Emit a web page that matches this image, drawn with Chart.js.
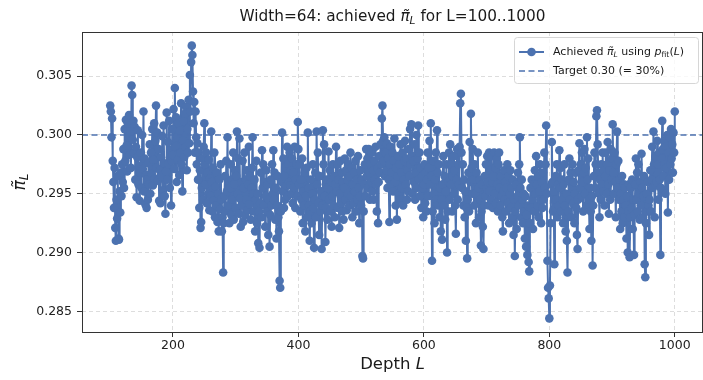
<!DOCTYPE html>
<html>
<head>
<meta charset="utf-8">
<script src="https://cdn.jsdelivr.net/npm/chart.js@4.4.1/dist/chart.umd.min.js"></script>
<style>
    html, body { margin: 0; padding: 0; background: #ffffff; }
    #wrap { width: 703px; height: 380px; }
</style>
</head>
<body>
<div id="wrap"><canvas id="grafico" width="703" height="380"></canvas></div>
<script>
// depths L = 100..1000, one value per depth
const depthFirst = 100;
const achievedPi = [
    0.3025, 0.3020, 0.2998, 0.3014, 0.2978, 0.2960, 0.2938, 0.2972, 0.2921, 0.2910,
    0.2945, 0.2929, 0.2965, 0.2912, 0.2911, 0.2952, 0.2934, 0.2968, 0.2948, 0.2975,
    0.2960, 0.2988, 0.2955, 0.3005, 0.2978, 0.3013, 0.2991, 0.2969, 0.3010, 0.2998,
    0.3017, 0.2983, 0.3003, 0.2972, 0.3042, 0.3034, 0.2996, 0.3012, 0.2985, 0.3007,
    0.2962, 0.2990, 0.2947, 0.2981, 0.3004, 0.2958, 0.2974, 0.2944, 0.2968, 0.2985,
    0.2955, 0.3000, 0.2971, 0.3020, 0.2952, 0.2980, 0.2941, 0.2966, 0.2938, 0.2962,
    0.2945, 0.2976, 0.2958, 0.2992, 0.2950, 0.2985, 0.2967, 0.3005, 0.2957, 0.2979,
    0.3010, 0.2963, 0.2995, 0.3025, 0.2972, 0.3002, 0.2961, 0.2988, 0.2944, 0.2970,
    0.2942, 0.2981, 0.2965, 0.2999, 0.2953, 0.3008, 0.2976, 0.2948, 0.2933, 0.2969,
    0.3019, 0.2962, 0.2994, 0.2975, 0.3012, 0.2955, 0.2987, 0.2940, 0.2978, 0.3005,
    0.2983, 0.3022, 0.2971, 0.3040, 0.2990, 0.3015, 0.2960, 0.2998, 0.2979, 0.3010,
    0.2966, 0.3004, 0.2985, 0.3027, 0.2975, 0.2952, 0.2995, 0.3012, 0.2981, 0.3018,
    0.2990, 0.3024, 0.2970, 0.3005, 0.2985, 0.3030, 0.2993, 0.3051, 0.3020, 0.3062,
    0.3076, 0.3068, 0.3037, 0.3010, 0.3028, 0.2985, 0.3020, 0.2998, 0.2975, 0.2993,
    0.2962, 0.2985, 0.2938, 0.2970, 0.2921, 0.2926, 0.2955, 0.2980, 0.2945, 0.2990,
    0.3010, 0.2975, 0.2958, 0.2985, 0.2942, 0.2968, 0.2950, 0.2979, 0.2936, 0.2963,
    0.2948, 0.3003, 0.2960, 0.2935, 0.2972, 0.2944, 0.2985, 0.2930, 0.2956, 0.2940,
    0.2968, 0.2926, 0.2950, 0.2918, 0.2962, 0.2937, 0.2975, 0.2945, 0.2918, 0.2930,
    0.2883, 0.2925, 0.2948, 0.2965, 0.2935, 0.2978, 0.2952, 0.2998, 0.2940, 0.2960,
    0.2925, 0.2955, 0.2975, 0.2932, 0.2962, 0.2945, 0.2985, 0.2928, 0.2958, 0.2970,
    0.2938, 0.2965, 0.3003, 0.2950, 0.2980, 0.2933, 0.2997, 0.2946, 0.2922, 0.2960,
    0.2940, 0.2978, 0.2926, 0.2955, 0.2985, 0.2932, 0.2962, 0.2945, 0.2970, 0.2936,
    0.2958, 0.2990, 0.2941, 0.2965, 0.2928, 0.2955, 0.2972, 0.2998, 0.2950, 0.2935,
    0.2962, 0.2918, 0.2945, 0.2978, 0.2925, 0.2950, 0.2908, 0.2935, 0.2904, 0.2942,
    0.2968, 0.2930, 0.2987, 0.2955, 0.2975, 0.2940, 0.2960, 0.2922, 0.2948, 0.2970,
    0.2935, 0.2958, 0.2915, 0.2945, 0.2905, 0.2932, 0.2962, 0.2940, 0.2975, 0.2950,
    0.2987, 0.2945, 0.2968, 0.2928, 0.2955, 0.2912, 0.2940, 0.2965, 0.2930, 0.2918,
    0.2876, 0.2870, 0.2935, 0.2960, 0.3002, 0.2952, 0.2980, 0.2938, 0.2965, 0.2945,
    0.2972, 0.2957, 0.2990, 0.2948, 0.2975, 0.2960, 0.2985, 0.2957, 0.2970, 0.2950,
    0.2980, 0.2942, 0.2968, 0.2955, 0.2990, 0.2938, 0.2962, 0.2975, 0.2948, 0.3011,
    0.2988, 0.2958, 0.2975, 0.2935, 0.2962, 0.2945, 0.2980, 0.2925, 0.2952, 0.2940,
    0.2968, 0.2918, 0.2948, 0.2972, 0.2930, 0.3002, 0.2955, 0.2940, 0.2910, 0.2935,
    0.2962, 0.2925, 0.2950, 0.2975, 0.2938, 0.2904, 0.2945, 0.2968, 0.2930, 0.3003,
    0.2958, 0.2985, 0.2942, 0.2915, 0.2965, 0.2935, 0.2952, 0.2903, 0.2940, 0.3004,
    0.2975, 0.2992, 0.2948, 0.2909, 0.2938, 0.2962, 0.2928, 0.2955, 0.2986, 0.2945,
    0.2970, 0.2935, 0.2960, 0.2922, 0.2948, 0.2975, 0.2940, 0.2965, 0.2930, 0.2958,
    0.2990, 0.2952, 0.2975, 0.2938, 0.2962, 0.2921, 0.2950, 0.2978, 0.2942, 0.2968,
    0.2935, 0.2960, 0.2928, 0.2955, 0.2980, 0.2945, 0.2970, 0.2936, 0.2962, 0.2950,
    0.2975, 0.2940, 0.2965, 0.2985, 0.2948, 0.2972, 0.2930, 0.2958, 0.2942, 0.2968,
    0.2952, 0.2978, 0.2935, 0.2962, 0.2945, 0.2982, 0.2955, 0.2925, 0.2948, 0.2970,
    0.2940, 0.2962, 0.2897, 0.2895, 0.2935, 0.2958, 0.2975, 0.2948, 0.2988, 0.2965,
    0.2980, 0.2955, 0.2988, 0.2968, 0.2945, 0.2975, 0.2960, 0.2985, 0.2952, 0.2970,
    0.2945, 0.2978, 0.2962, 0.2990, 0.2958, 0.2935, 0.2972, 0.2925, 0.2960, 0.2982,
    0.2968, 0.2992, 0.2975, 0.3014, 0.3025, 0.2995, 0.2978, 0.2998, 0.2965, 0.2985,
    0.2970, 0.2993, 0.2955, 0.2980, 0.2962, 0.2926, 0.2975, 0.2990, 0.2958, 0.2968,
    0.2985, 0.2952, 0.2978, 0.2997, 0.2960, 0.2940, 0.2972, 0.2928, 0.2965, 0.2982,
    0.2950, 0.2975, 0.2945, 0.2992, 0.2968, 0.2955, 0.2985, 0.2940, 0.2962, 0.2978,
    0.2995, 0.2958, 0.2980, 0.2945, 0.2970, 0.2952, 0.2988, 0.2965, 0.3005, 0.2975,
    0.3009, 0.2982, 0.2950, 0.2978, 0.2960, 0.2992, 0.2945, 0.2968, 0.3000, 0.2955,
    0.2980, 0.3008, 0.2962, 0.2985, 0.2948, 0.2972, 0.2938, 0.2965, 0.2955, 0.2930,
    0.2958, 0.2975, 0.2942, 0.2968, 0.2935, 0.2962, 0.2985, 0.2948, 0.2972, 0.2995,
    0.2958, 0.3010, 0.2965, 0.2893, 0.2935, 0.2978, 0.2950, 0.2925, 0.2962, 0.2985,
    0.2945, 0.3004, 0.2968, 0.2940, 0.2975, 0.2930, 0.2955, 0.2918, 0.2945, 0.2911,
    0.2958, 0.2982, 0.2940, 0.2965, 0.2928, 0.2952, 0.2975, 0.2900, 0.2935, 0.2960,
    0.2985, 0.2945, 0.2992, 0.2958, 0.2975, 0.2935, 0.2965, 0.2982, 0.2950, 0.2970,
    0.2940, 0.2916, 0.2962, 0.2988, 0.2945, 0.2975, 0.2958, 0.2990, 0.3027, 0.3035,
    0.2985, 0.2955, 0.2975, 0.2940, 0.2962, 0.2930, 0.2952, 0.2910, 0.2938, 0.2895,
    0.2945, 0.2968, 0.2935, 0.2994, 0.2960, 0.3018, 0.2972, 0.2950, 0.2988, 0.2962,
    0.2940, 0.2975, 0.2950, 0.2925, 0.2968, 0.2942, 0.2985, 0.2955, 0.2930, 0.2962,
    0.2945, 0.2906, 0.2935, 0.2958, 0.2922, 0.2903, 0.2940, 0.2965, 0.2948, 0.2975,
    0.2955, 0.2982, 0.2960, 0.2940, 0.2985, 0.2952, 0.2970, 0.2945, 0.2982, 0.2960,
    0.2938, 0.2965, 0.2985, 0.2950, 0.2972, 0.2942, 0.2980, 0.2958, 0.2935, 0.2975,
    0.2985, 0.2955, 0.2940, 0.2965, 0.2948, 0.2930, 0.2918, 0.2952, 0.2970, 0.2945,
    0.2960, 0.2935, 0.2955, 0.2975, 0.2942, 0.2965, 0.2925, 0.2950, 0.2970, 0.2938,
    0.2955, 0.2930, 0.2962, 0.2915, 0.2945, 0.2897, 0.2935, 0.2958, 0.2920, 0.2948,
    0.2968, 0.2940, 0.2975, 0.2998, 0.2955, 0.2930, 0.2962, 0.2945, 0.2925, 0.2950,
    0.2935, 0.2912, 0.2948, 0.2905, 0.2932, 0.2898, 0.2940, 0.2892, 0.2884, 0.2925,
    0.2955, 0.2938, 0.2962, 0.2945, 0.2920, 0.2958, 0.2935, 0.2970, 0.2950, 0.2982,
    0.2958, 0.2940, 0.2965, 0.2930, 0.2952, 0.2975, 0.2945, 0.2925, 0.2960, 0.2938,
    0.2968, 0.2945, 0.2985, 0.2955, 0.2975, 0.3008, 0.2950, 0.2893, 0.2870, 0.2861,
    0.2844, 0.2872, 0.2925, 0.2958, 0.2994, 0.2960, 0.2935, 0.2952, 0.2890, 0.2938,
    0.2965, 0.2945, 0.2975, 0.2930, 0.2958, 0.2940, 0.2987, 0.2955, 0.2972, 0.2935,
    0.2962, 0.2945, 0.2925, 0.2958, 0.2975, 0.2940, 0.2918, 0.2950, 0.2910, 0.2883,
    0.2935, 0.2962, 0.2980, 0.2945, 0.2968, 0.2930, 0.2955, 0.2975, 0.2942, 0.2960,
    0.2925, 0.2950, 0.2968, 0.2938, 0.2915, 0.2903, 0.2945, 0.2970, 0.2993, 0.2955,
    0.2975, 0.2948, 0.2985, 0.2960, 0.2935, 0.2968, 0.2988, 0.2950, 0.2972, 0.2940,
    0.2998, 0.2962, 0.2980, 0.2945, 0.2920, 0.2955, 0.2935, 0.2910, 0.2948, 0.2889,
    0.2940, 0.2965, 0.2985, 0.2955, 0.2975, 0.3016, 0.3021, 0.2992, 0.2968, 0.2950,
    0.2930, 0.2962, 0.2945, 0.2975, 0.2958, 0.2985, 0.2952, 0.2970, 0.2940, 0.2965,
    0.2985, 0.2950, 0.2975, 0.2994, 0.2958, 0.2933, 0.2970, 0.2945, 0.2988, 0.2962,
    0.2980, 0.3009, 0.2968, 0.2950, 0.2985, 0.2960, 0.2930, 0.2975, 0.3003, 0.2955,
    0.2978, 0.2945, 0.2962, 0.2920, 0.2950, 0.2935, 0.2965, 0.2925, 0.2945, 0.2958,
    0.2930, 0.2955, 0.2940, 0.2912, 0.2948, 0.2900, 0.2935, 0.2958, 0.2896, 0.2930,
    0.2955, 0.2938, 0.2962, 0.2920, 0.2945, 0.2898, 0.2932, 0.2958, 0.2980, 0.2945,
    0.2968, 0.2935, 0.2975, 0.2950, 0.2928, 0.2960, 0.2940, 0.2984, 0.2955, 0.2930,
    0.2948, 0.2965, 0.2890, 0.2879, 0.2925, 0.2950, 0.2935, 0.2960, 0.2940, 0.2915,
    0.2945, 0.2970, 0.2935, 0.2962, 0.2990, 0.2955, 0.3003, 0.2975, 0.2930, 0.2958,
    0.2982, 0.2960, 0.2995, 0.2975, 0.2945, 0.2985, 0.2962, 0.2898, 0.2955, 0.2980,
    0.3012, 0.2988, 0.2965, 0.2995, 0.2975, 0.2950, 0.2990, 0.2972, 0.3000, 0.2934,
    0.2985, 0.2962, 0.2998, 0.2975, 0.3005, 0.2980, 0.2992, 0.2968, 0.3002, 0.2985,
    0.3020
];
const targetPi = 0.30;
const xTicks = [200, 400, 600, 800, 1000];
const yTicks = [0.285, 0.290, 0.295, 0.300, 0.305];

const azul = '#4C72B0';
const fonteBase = '"DejaVu Sans", sans-serif';

const depths = achievedPi.map((_, i) => depthFirst + i);
const pontos = depths.map((L, i) => ({ x: L, y: achievedPi[i] }));

// axis limits with a 5% margin around the data, like matplotlib autoscaling
const xMinD = depths[0], xMaxD = depths[depths.length - 1];
const yMinD = Math.min(...achievedPi), yMaxD = Math.max(...achievedPi);
const xMin = xMinD - 0.05 * (xMaxD - xMinD);
const xMax = xMaxD + 0.05 * (xMaxD - xMinD);
const yMin = yMinD - 0.05 * (yMaxD - yMinD);
const yMax = yMaxD + 0.05 * (yMaxD - yMinD);

// text pieces: [text, italic, subscript]
function larguraRica(ctx, partes, tam) {
    let w = 0;
    partes.forEach(p => {
        ctx.font = (p[1] ? 'italic ' : '') + (p[2] ? tam * 0.7 : tam) + 'px ' + fonteBase;
        w += ctx.measureText(p[0]).width;
    });
    return w;
}

function escreverRico(ctx, partes, x, y, tam, alinhamento) {
    let w = larguraRica(ctx, partes, tam);
    let xi = alinhamento === 'center' ? x - w / 2 : x;
    ctx.textBaseline = 'middle';
    ctx.textAlign = 'left';
    partes.forEach(p => {
        ctx.font = (p[1] ? 'italic ' : '') + (p[2] ? tam * 0.7 : tam) + 'px ' + fonteBase;
        ctx.fillText(p[0], xi, p[2] ? y + tam * 0.25 : y);
        xi += ctx.measureText(p[0]).width;
    });
}

const moldura = {
    id: 'moldura',
    afterDraw(chart) {
        const ctx = chart.ctx;
        const a = chart.chartArea;
        ctx.save();
        ctx.strokeStyle = '#333333';
        ctx.lineWidth = 1;
        ctx.strokeRect(a.left + 0.5, a.top + 0.5, a.right - a.left - 1, a.bottom - a.top);
        ctx.fillStyle = '#1a1a1a';

        // title
        escreverRico(ctx, [['Width=64: achieved ', false, false], ['\u03C0\u0303', true, false], ['L', true, true], [' for L=100..1000', false, false]],
            (a.left + a.right) / 2, 17, 15.3, 'center');

        // x axis title
        escreverRico(ctx, [['Depth ', false, false], ['L', true, false]], (a.left + a.right) / 2, 365, 16.5, 'center');

        // y axis title (rotated)
        ctx.save();
        ctx.translate(21, (a.top + a.bottom) / 2);
        ctx.rotate(-Math.PI / 2);
        escreverRico(ctx, [['\u03C0\u0303', true, false], ['L', true, true]], 0, 0, 17, 'center');
        ctx.restore();

        // legend box, anchored to the upper right corner of the plot
        const lw = 184, lh = 46;
        const lx = a.right - 5 - lw, ly = 37;
        ctx.beginPath();
        ctx.roundRect(lx + 0.5, ly + 0.5, lw, lh, 3);
        ctx.fillStyle = 'rgba(255,255,255,0.8)';
        ctx.fill();
        ctx.strokeStyle = '#d6d6d6';
        ctx.stroke();

        ctx.strokeStyle = azul;
        ctx.lineWidth = 2;
        ctx.beginPath();
        ctx.moveTo(lx + 5, ly + 15);
        ctx.lineTo(lx + 30, ly + 15);
        ctx.stroke();
        ctx.fillStyle = azul;
        ctx.beginPath();
        ctx.arc(lx + 17.5, ly + 15, 4.3, 0, Math.PI * 2);
        ctx.fill();

        ctx.setLineDash([6, 3.5]);
        ctx.lineWidth = 1.6;
        ctx.beginPath();
        ctx.moveTo(lx + 5, ly + 34);
        ctx.lineTo(lx + 30, ly + 34);
        ctx.stroke();
        ctx.setLineDash([]);

        ctx.fillStyle = '#1a1a1a';
        escreverRico(ctx, [['Achieved ', false, false], ['\u03C0\u0303', true, false], ['L', true, true], [' using ', false, false],
            ['p', true, false], ['fit', false, true], ['(', false, false], ['L', true, false], [')', false, false]],
            lx + 39, ly + 15, 11, 'left');
        escreverRico(ctx, [['Target 0.30 (= 30%)', false, false]], lx + 39, ly + 34, 11, 'left');
        ctx.restore();
    }
};

const ctx = document.getElementById('grafico');

new Chart(ctx, {
    type: 'line',
    data: {
        datasets: [
            {
                label: 'Target 0.30 (= 30%)',
                data: [{ x: xMin, y: targetPi }, { x: xMax, y: targetPi }],
                borderColor: azul,
                borderWidth: 1.6,
                borderDash: [6, 3.5],
                pointRadius: 0,
                order: 0
            },
            {
                label: 'Achieved',
                data: pontos,
                borderColor: azul,
                backgroundColor: azul,
                borderWidth: 2,
                pointRadius: 4.3,
                pointBorderWidth: 0,
                pointBackgroundColor: azul,
                tension: 0,
                order: 1
            }
        ]
    },
    options: {
        animation: false,
        responsive: false,
        devicePixelRatio: 1,
        layout: { autoPadding: false, padding: { left: 0, top: 32, right: 0, bottom: 0 } },
        plugins: {
            legend: { display: false },
            title: { display: false },
            tooltip: { enabled: false }
        },
        scales: {
            x: {
                type: 'linear',
                min: xMin,
                max: xMax,
                afterBuildTicks: s => { s.ticks = xTicks.map(v => ({ value: v })); },
                afterFit: s => { s.height = 48; s.paddingLeft = 0; s.paddingRight = 0; },
                grid: { color: '#d4d4d4', lineWidth: 0.8, tickLength: 5, tickColor: '#333333', tickWidth: 1, tickBorderDash: [] },
                border: { display: false, dash: [4, 3] },
                ticks: {
                    color: '#222222',
                    font: { family: fonteBase, size: 12.5 },
                    padding: 1,
                    maxRotation: 0,
                    autoSkip: false,
                    callback: v => String(v)
                }
            },
            y: {
                min: yMin,
                max: yMax,
                afterBuildTicks: s => { s.ticks = yTicks.map(v => ({ value: v })); },
                afterFit: s => { s.width = 82; s.paddingTop = 0; s.paddingBottom = 0; },
                grid: { color: '#d4d4d4', lineWidth: 0.8, tickLength: 5, tickColor: '#333333', tickWidth: 1, tickBorderDash: [] },
                border: { display: false, dash: [4, 3] },
                ticks: {
                    color: '#222222',
                    font: { family: fonteBase, size: 12.5 },
                    padding: 5,
                    autoSkip: false,
                    callback: v => v.toFixed(3)
                }
            }
        }
    },
    plugins: [moldura]
});
</script>
</body>
</html>
